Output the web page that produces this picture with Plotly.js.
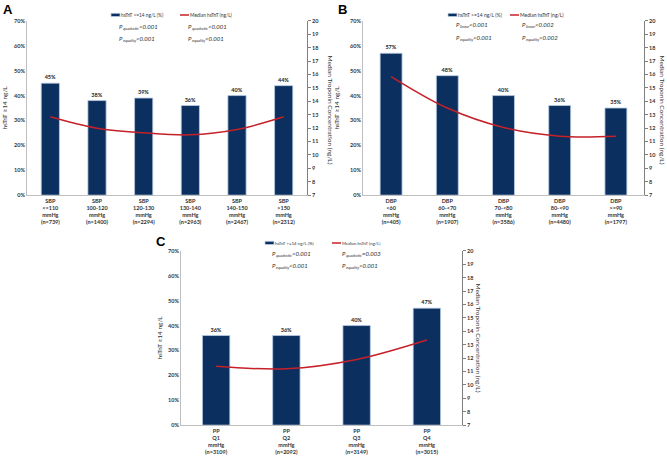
<!DOCTYPE html>
<html><head><meta charset="utf-8">
<script src="https://cdn.plot.ly/plotly-3.0.1.min.js"></script>
<style>html,body{margin:0;padding:0;background:#fff}#chart{width:667px;height:456px}</style>
</head><body><div id="chart"></div>
<script>
// Panel A: systolic blood pressure
const catsA = ['SBP<br>&lt;=110<br>mmHg<br>(n=739)','SBP<br>100-120<br>mmHg<br>(n=1400)','SBP<br>120-130<br>mmHg<br>(n=2294)','SBP<br>130-140<br>mmHg<br>(n=2963)','SBP<br>140-150<br>mmHg<br>(n=2467)','SBP<br>&gt;150<br>mmHg<br>(n=2312)'];
const pctA = [45, 38, 39, 36, 40, 44];
const medA = [12.85, 12.0, 11.65, 11.5, 11.9, 12.85];
// Panel B: diastolic blood pressure
const catsB = ['DBP<br>&lt;60<br>mmHg<br>(n=405)','DBP<br>60-&lt;70<br>mmHg<br>(n=1907)','DBP<br>70-&lt;80<br>mmHg<br>(n=3586)','DBP<br>80-&lt;90<br>mmHg<br>(n=4480)','DBP<br>&gt;=90<br>mmHg<br>(n=1797)'];
const pctB = [57, 48, 40, 36, 35];
const medB = [15.85, 13.5, 12.05, 11.4, 11.4];
// Panel C: pulse pressure quartiles
const catsC = ['PP<br>Q1<br>mmHg<br>(n=3109)','PP<br>Q2<br>mmHg<br>(n=2092)','PP<br>Q3<br>mmHg<br>(n=3149)','PP<br>Q4<br>mmHg<br>(n=3015)'];
const pctC = [36, 36, 40, 47];
const medC = [11.4, 11.2, 11.9, 13.35];
// P-value labels [subscript, relation] per panel, two columns x two rows
const pA = [['quadratic', '<0.001'], ['equality', '<0.001'], ['quadratic', '<0.001'], ['equality', '<0.001']];
const pB = [['linear', '<0.001'], ['equality', '<0.001'], ['linear', '<0.002'], ['equality', '<0.002']];
const pC = [['quadratic', '<0.001'], ['equality', '<0.001'], ['quadratic', '=0.003'], ['equality', '<0.001']];

const barName = 'hsTnT >=14 ng/L (%)';
const lineName = 'Median hsTnT (ng/L)';
const navy = '#0b2f5e', red = '#c62029';
const FAM = 'Lato';
const FONT = 'Lato, "Liberation Sans", sans-serif';
const tickF = {family: FONT, size: 5.5, color: '#333', weight: 'bold'};
const esc = s => s.replace(/&/g, '&amp;').replace(/</g, '&lt;').replace(/>/g, '&gt;');

const ctx = document.createElement('canvas').getContext('2d');
function tw(text, size, style) { ctx.font = (style || '') + ' ' + size + 'px ' + FAM; return ctx.measureText(text).width; }

function bar(x, y, xa, ya, lg) {
  return {type: 'bar', x: x, y: y, xaxis: xa, yaxis: ya, name: esc(barName), legend: lg,
    marker: {color: navy, line: {color: '#b7cbe2', width: 0.8}},
    texttemplate: '%{y}', textposition: 'outside', cliponaxis: false,
    textfont: {family: FONT, size: 5.5, color: '#222', weight: 'bold'}, hoverinfo: 'skip'};
}
function line(x, y, xa, ya, lg) {
  return {type: 'scatter', mode: 'lines', x: x, y: y, xaxis: xa, yaxis: ya, name: esc(lineName), legend: lg,
    line: {color: red, width: 1.5, shape: 'spline', smoothing: 1}, hoverinfo: 'skip'};
}
const data = [
  bar(catsA, pctA, 'x', 'y', 'legend'), line(catsA, medA, 'x', 'y2', 'legend2'),
  bar(catsB, pctB, 'x2', 'y3', 'legend3'), line(catsB, medB, 'x2', 'y4', 'legend4'),
  bar(catsC, pctC, 'x3', 'y5', 'legend5'), line(catsC, medC, 'x3', 'y6', 'legend6')
];

function xax(dom, anchor) {
  return {domain: dom, anchor: anchor, showline: true, linecolor: '#bfbfbf', linewidth: 1,
    ticks: '', tickfont: tickF, showgrid: false, zeroline: false, fixedrange: true};
}
function yl(dom, anchor) {
  return {domain: dom, anchor: anchor, range: [0, 70], dtick: 10, ticksuffix: '%',
    showline: true, linecolor: '#bfbfbf', linewidth: 1, ticks: '', tickfont: tickF,
    showgrid: false, zeroline: false, fixedrange: true};
}
function yr(ov, anchor) {
  return {overlaying: ov, anchor: anchor, side: 'right', range: [7, 20], dtick: 1,
    showline: true, linecolor: '#7f7f7f', linewidth: 1, ticks: 'outside', ticklen: 3, tickcolor: '#7f7f7f',
    tickfont: tickF, showgrid: false, zeroline: false, fixedrange: true};
}
const W = 667, H = 456;
const px = v => v / W, py = v => 1 - v / H;
const topDom = [py(194), py(19)], botDom = [py(425), py(250)];

function legObj(xp, yp, fs) {
  return {x: px(xp), y: py(yp), xanchor: 'left', yanchor: 'middle', orientation: 'h',
    font: {family: FONT, size: fs, color: '#333'}, bgcolor: 'rgba(0,0,0,0)', itemwidth: 30, tracegroupgap: 0};
}
// place a pair of legends at the reference text starts, shifted apart only if they would overlap
function legPair(barText, lineText, yp, fs) {
  const barEnd = barText + tw(barName, fs);
  const overlap = barEnd + 3 - (lineText - 11);
  const s = overlap > 0 ? overlap / 2 : 0;
  return [legObj(barText - s - 40, yp, fs), legObj(lineText + s - 40, yp, fs)];
}
const [lA1, lA2] = legPair(121, 190, 13, 4.8);
const [lB1, lB2] = legPair(458, 520, 13, 5);
const [lC1, lC2] = legPair(275, 342, 242, 4.4);

const anns = [];
function pVal(sub, rel, xp, yp) {
  const fs = 6, sfs = 4;
  const wP = tw('P', fs, 'italic'), wS = tw(sub, sfs, 'italic');
  const base = {xref: 'paper', yref: 'paper', y: py(yp), x: px(xp), xanchor: 'left', yanchor: 'middle', showarrow: false, borderpad: 0, borderwidth: 0};
  anns.push(Object.assign({}, base, {text: 'P', font: {family: FONT, size: fs, color: '#333', style: 'italic'}}));
  anns.push(Object.assign({}, base, {text: sub, xshift: wP + 0.3, yshift: -2, font: {family: FONT, size: sfs, color: '#333', style: 'italic'}}));
  anns.push(Object.assign({}, base, {text: esc(rel), xshift: wP + wS + 0.6, font: {family: FONT, size: fs, color: '#333', style: 'italic'}}));
}
function pBlock(list, x1, x2, y1, y2) {
  pVal(list[0][0], list[0][1], x1, y1); pVal(list[1][0], list[1][1], x1, y2);
  pVal(list[2][0], list[2][1], x2, y1); pVal(list[3][0], list[3][1], x2, y2);
}
pBlock(pA, 119, 188, 25, 36.5);
pBlock(pB, 456, 522, 23, 36);
pBlock(pC, 272, 342, 253, 264.5);

function title(text, xp, yp, ang) {
  return {text: text, x: px(xp), y: py(yp), xref: 'paper', yref: 'paper', xanchor: 'center', yanchor: 'middle',
    textangle: ang, showarrow: false, font: {family: FONT, size: 6.5, color: '#333'}};
}
function letter(t, xp, yp) {
  return {text: t, x: px(xp), y: py(yp), xref: 'paper', yref: 'paper', xanchor: 'center', yanchor: 'middle',
    showarrow: false, font: {family: 'Liberation Sans, Arial, sans-serif', size: 13, color: '#000', weight: 'bold'}};
}
const leftT = 'hsTnT \u226514 ng/L', rightT = 'Median Troponin Concentration (ng/L)';
anns.push(letter('A', 8, 8), letter('B', 343, 8), letter('C', 161, 241),
  title(leftT, 5, 106, -90), title(rightT, 330, 108, 90),
  title(leftT, 337, 106, -90), title(rightT, 662, 108, 90),
  title(leftT, 160, 337, -90), title(rightT, 478, 337, 90));

const layout = {
  width: W, height: H, margin: {l: 0, r: 0, t: 0, b: 0},
  paper_bgcolor: '#fff', plot_bgcolor: 'rgba(0,0,0,0)',
  bargap: 0.61, showlegend: true,
  font: {family: FONT},
  xaxis: xax([px(27), px(307)], 'y'),
  yaxis: yl(topDom, 'x'),
  yaxis2: yr('y', 'x'),
  xaxis2: xax([px(363), px(644)], 'y3'),
  yaxis3: yl(topDom, 'x2'),
  yaxis4: yr('y3', 'x2'),
  xaxis3: xax([px(181), px(462)], 'y5'),
  yaxis5: yl(botDom, 'x3'),
  yaxis6: yr('y5', 'x3'),
  legend: lA1, legend2: lA2, legend3: lB1, legend4: lB2, legend5: lC1, legend6: lC2,
  annotations: anns
};
Plotly.newPlot('chart', data, layout, {displayModeBar: false, staticPlot: true}).then(gd => {
  // compact legend keys like the reference: a short flat bar / short line right before the text
  gd.querySelectorAll('g.legendpoints path').forEach(p => {
    p.removeAttribute('transform');
    p.setAttribute('d', 'M30,1.6H39V-1.6H30Z');
  });
  gd.querySelectorAll('g.legendlines path').forEach(p => p.setAttribute('d', 'M30,0H39'));
});
</script></body></html>
